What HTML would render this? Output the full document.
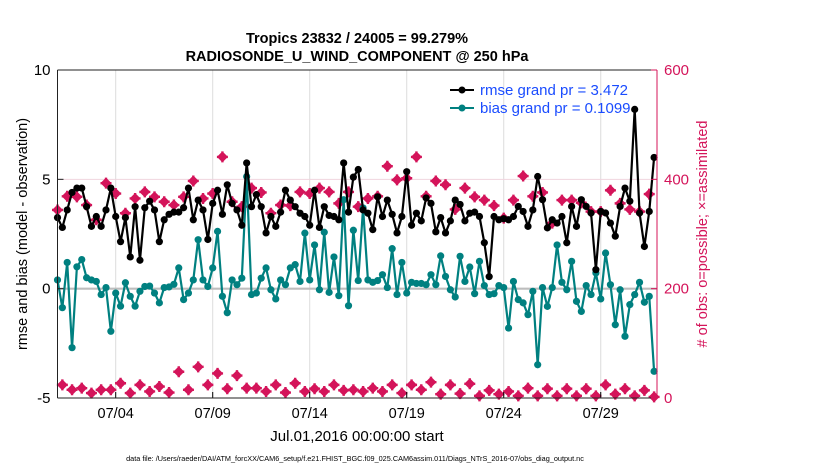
<!DOCTYPE html>
<html><head><meta charset="utf-8">
<style>
html,body{margin:0;padding:0;background:#fff;}
svg{display:block;font-family:"Liberation Sans",sans-serif;}
</style></head>
<body>
<svg id="chart" width="830" height="470" viewBox="0 0 830 470">
<rect width="830" height="470" fill="#fff"/>
<g id="grid"></g>
<g id="series"></g>
<g id="axes"></g>
<text x="357" y="43" text-anchor="middle" font-size="14.5" font-weight="bold">Tropics 23832 / 24005 = 99.279%</text>
<text x="357" y="61" text-anchor="middle" font-size="14.5" font-weight="bold">RADIOSONDE_U_WIND_COMPONENT @ 250 hPa</text>
<text transform="translate(27,234) rotate(-90)" text-anchor="middle" font-size="14.5">rmse and bias (model - observation)</text>
<text transform="translate(707,234) rotate(-90)" text-anchor="middle" font-size="14.5" fill="#d4145a"># of obs: o=possible; ×=assimilated</text>
<text x="357" y="441" text-anchor="middle" font-size="15">Jul.01,2016 00:00:00 start</text>
<text x="355" y="461" text-anchor="middle" font-size="7.3">data file: /Users/raeder/DAI/ATM_forcXX/CAM6_setup/f.e21.FHIST_BGC.f09_025.CAM6assim.011/Diags_NTrS_2016-07/obs_diag_output.nc</text>
<g>
<line x1="450" y1="90" x2="474" y2="90" stroke="#000" stroke-width="2"/>
<circle cx="462" cy="90" r="3.5" fill="#000"/>
<text x="480" y="95" font-size="15" fill="#1a4cff">rmse grand pr = 3.472</text>
<line x1="450" y1="108" x2="474" y2="108" stroke="#008080" stroke-width="2"/>
<circle cx="462" cy="108" r="3.5" fill="#008080"/>
<text x="480" y="113" font-size="15" fill="#1a4cff">bias grand pr = 0.1099</text>
</g>
</svg>
<script>
const rmse = [3.25,2.8,3.6,4.4,4.6,4.6,3.75,2.85,3.3,2.85,3.6,4.6,3.3,2.15,3.25,1.45,3.75,1.3,3.7,4.0,3.6,2.15,3.15,3.4,3.5,3.5,3.7,4.6,3.15,4.05,3.6,2.25,3.9,4.5,3.4,4.75,3.9,3.6,2.9,5.75,3.75,4.3,3.75,2.55,3.3,2.85,3.5,4.5,4.05,3.75,3.45,3.3,2.9,4.5,2.8,3.75,3.35,3.3,3.15,5.75,3.5,5.1,5.45,3.6,3.45,2.7,4.2,3.3,4.05,3.4,2.55,3.3,5.35,2.9,3.45,3.1,4.15,3.9,2.6,3.25,2.55,3.1,4.05,3.85,3.1,3.45,3.5,3.3,2.1,0.55,3.3,3.15,3.2,3.15,3.3,3.76,3.53,2.85,3.6,5.13,4.07,2.78,3.15,3.0,3.3,2.1,3.76,2.85,4.07,3.76,3.46,0.87,3.53,3.46,3.0,2.4,3.76,4.6,4.0,8.2,3.46,1.93,3.53,6.0];
const bias = [0.4,-0.87,1.2,-2.7,1.0,1.33,0.5,0.4,0.33,-0.27,0.05,-1.95,-0.2,-0.8,0.27,-0.35,-0.8,-0.12,0.1,0.12,-0.2,-0.65,0.05,0.08,0.2,0.95,-0.5,-0.2,0.4,2.24,0.4,0.1,0.95,2.62,-0.35,-1.1,0.4,0.18,0.48,5.13,-0.27,-0.2,0.48,0.95,-0.05,-0.47,0.4,0.18,0.95,1.1,0.33,2.54,0.4,2.0,-0.05,2.58,-0.17,1.45,-0.32,4.07,-0.78,2.67,0.37,3.69,0.4,0.29,0.37,0.64,0.05,1.83,-0.27,1.2,-0.2,0.29,0.24,0.24,0.18,0.64,0.18,1.5,0.56,-0.05,-0.38,1.48,0.33,0.99,-0.23,1.25,0.14,-0.27,-0.23,0.14,0.05,-1.8,0.33,-0.5,-0.65,-1.19,-0.12,-3.48,0.05,-0.81,0.05,2.0,0.29,-0.05,1.25,-0.58,-1.04,0.14,-0.27,0.72,-0.47,1.63,0.18,-1.65,-0.05,-2.18,-0.73,-0.27,0.29,-0.62,-0.35,-3.78];
const nobs = [344,24,369,15,368,18,353,9,326,15,393,15,374,27,338,9,365,24,377,12,368,21,359,10,353,48,368,15,397,57,365,24,374,45,441,17,359,41,350,18,384,18,376,12,338,24,353,10,352,27,377,12,374,17,384,12,377,24,356,14,377,15,350,12,365,18,369,12,424,24,399,9,402,24,441,15,369,29,397,7,390,24,345,8,384,26,368,4,362,14,352,7,329,12,362,4,406,18,369,4,376,17,320,4,362,17,362,4,357,17,341,4,341,24,380,7,356,17,345,4,341,14,373,2];
const xTickLabels = ["07/04","07/09","07/14","07/19","07/24","07/29"];
const xTickDays = [3,8,13,18,23,28];
const yTicks = [-5,0,5,10];
const y2Ticks = [0,200,400,600];

const L=57.5,R=657,T=70,B=398;
const nDays=31;
const xs = i => L + (i/4)*((R-L)/(nDays-0.1));
const xd = d => L + d*((R-L)/(nDays-0.1));
const ys = v => B - (v+5)/15*(B-T);
const y2 = n => B - n/600*(B-T);
const NS="http://www.w3.org/2000/svg";
function mk(tag, attrs, parent){const e=document.createElementNS(NS,tag);for(const k in attrs)e.setAttribute(k,attrs[k]);parent.appendChild(e);return e;}
const gridG=document.getElementById('grid'), ser=document.getElementById('series'), ax=document.getElementById('axes');

xTickDays.forEach((d,k)=>{
  const g=mk('line',{x1:xd(d),x2:xd(d),y1:T,y2:B,stroke:'#dcdcdc','stroke-width':1},gridG);
  
  
  const t=mk('text',{x:xd(d),y:B+20,'text-anchor':'middle','font-size':14.5},ax);
  t.textContent=xTickLabels[k];
  
  
  const tk=mk('line',{x1:xd(d),x2:xd(d),y1:B,y2:B-6,stroke:'#000'},ax);
  
  
});
const pg=mk('line',{x1:L,x2:R,y1:y2(400),y2:y2(400),stroke:'#f0d4de','stroke-width':1},gridG);


const zl=mk('line',{x1:L,x2:R,y1:ys(0),y2:ys(0),stroke:'#bdbdbd','stroke-width':2.2},gridG);



nobs.forEach((n,i)=>{
  const x=xs(i),y=y2(n);
  const d=mk('path',{d:`M${x},${y-5.5}L${x+5.5},${y}L${x},${y+5.5}L${x-5.5},${y}Z M${x-1.2},${y-5.5}h2.4v11h-2.4Z M${x-5.5},${y-1.2}h11v2.4h-11Z`,fill:'#d4145a'},ser);
  
  
});
function drawSeries(vals,color,name){
  const p=mk('polyline',{points:vals.map((v,i)=>xs(i)+','+ys(v)).join(' '),fill:'none',stroke:color,'stroke-width':2.2,'stroke-linejoin':'round'},ser);
  
  
  vals.forEach((v,i)=>{
    const c=mk('circle',{cx:xs(i),cy:ys(v),r:3.6,fill:color},ser);
    
    
  });
}
drawSeries(bias,'#008080','bias');
drawSeries(rmse,'#000','rmse');

const topBorder=mk('line',{x1:L,x2:R,y1:T,y2:T,stroke:'#222'},ax);


const botAxis=mk('line',{x1:L,x2:R,y1:B,y2:B,stroke:'#222'},ax);


const leftAxis=mk('line',{x1:L,x2:L,y1:T,y2:B,stroke:'#222'},ax);


const rightAxis=mk('line',{x1:R,x2:R,y1:T,y2:B,stroke:'#d4145a'},ax);


yTicks.forEach(v=>{
  const t=mk('text',{x:L-7,y:ys(v)+5,'text-anchor':'end','font-size':15},ax);
  t.textContent=v;
  
  
  const tk=mk('line',{x1:L,x2:L+6,y1:ys(v),y2:ys(v),stroke:'#222'},ax);
  
  
});
y2Ticks.forEach(n=>{
  const t=mk('text',{x:R+7,y:y2(n)+5,'font-size':15,fill:'#d4145a'},ax);
  t.textContent=n;
  
  
  const tk=mk('line',{x1:R,x2:R-6,y1:y2(n),y2:y2(n),stroke:'#d4145a'},ax);
  
  
});
</script>
</body></html>
